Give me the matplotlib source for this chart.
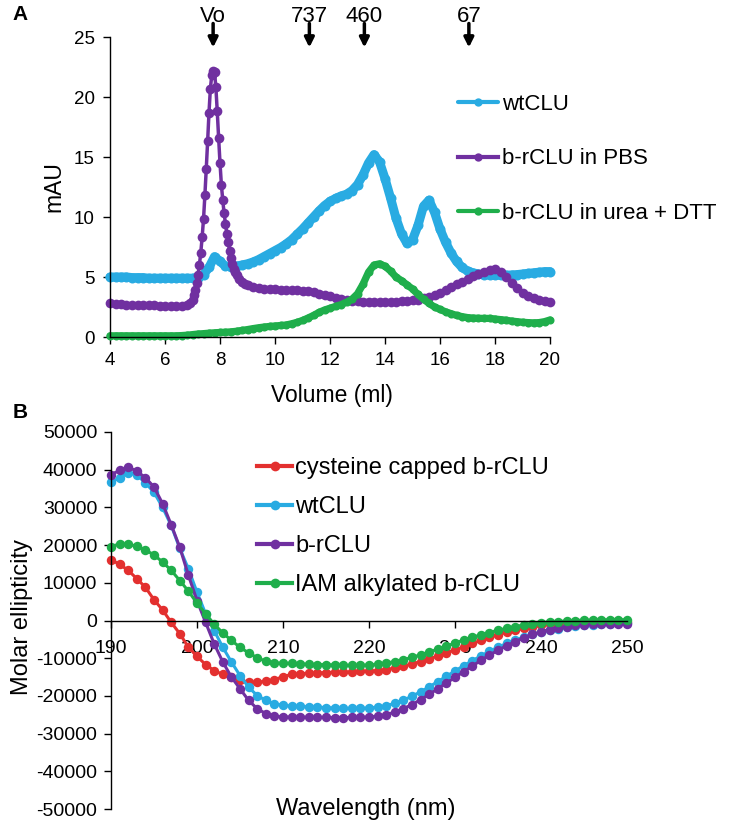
import numpy as np
import matplotlib
matplotlib.use('Agg')
import matplotlib.pyplot as plt

plt.rcParams['font.family'] = ['Liberation Sans', 'DejaVu Sans']
plt.rcParams['axes.unicode_minus'] = False

# ---- panel A : size exclusion traces (mAU vs ml) ----
vol = np.linspace(4, 20, 81)
wt_a = [5.0, 5.0, 5.0, 5.0, 4.95, 4.95, 4.95, 4.9, 4.9, 4.9, 4.9, 4.9, 4.9, 4.9, 4.9, 4.9,
        4.95, 5.2, 5.8, 6.7, 6.3, 5.9, 5.85, 5.9, 6.0, 6.1, 6.25, 6.45, 6.7, 6.95, 7.2, 7.45,
        7.75, 8.1, 8.55, 9.0, 9.5, 10.0, 10.5, 10.95, 11.3, 11.55, 11.75, 11.9, 12.2, 12.7,
        13.5, 14.5, 15.2, 14.6, 13.2, 11.6, 9.9, 8.6, 7.8, 8.1, 9.3, 10.9, 11.4, 10.4, 9.0,
        7.9, 7.0, 6.3, 5.8, 5.5, 5.35, 5.25, 5.2, 5.17, 5.15, 5.15, 5.15, 5.17, 5.2, 5.25,
        5.3, 5.35, 5.4, 5.45, 5.45]
urea_a = [0.1, 0.1, 0.1, 0.1, 0.1, 0.1, 0.1, 0.1, 0.1, 0.1, 0.1, 0.1, 0.1, 0.12, 0.15,
          0.2, 0.25, 0.28, 0.32, 0.35, 0.38, 0.4, 0.43, 0.48, 0.55, 0.62, 0.7, 0.77, 0.83,
          0.88, 0.92, 0.96, 1.0, 1.1, 1.22, 1.38, 1.58, 1.8, 2.05, 2.25, 2.4, 2.55, 2.7, 2.9,
          3.15, 3.6, 4.4, 5.4, 6.0, 6.1, 5.9, 5.5, 5.0, 4.7, 4.35, 4.0, 3.55, 3.15, 2.8, 2.5,
          2.3, 2.1, 1.95, 1.8, 1.7, 1.62, 1.58, 1.56, 1.55, 1.55, 1.5, 1.45, 1.4, 1.33, 1.28,
          1.23, 1.2, 1.18, 1.2, 1.28, 1.42]
pbs_vol = [4.0, 4.2, 4.4, 4.6, 4.8, 5.0, 5.2, 5.4, 5.6, 5.8, 6.0, 6.2, 6.4, 6.6, 6.8, 6.9,
           7.0, 7.05, 7.1, 7.15, 7.2, 7.25, 7.3, 7.35, 7.4, 7.45, 7.5, 7.55, 7.6, 7.65, 7.7,
           7.75, 7.8, 7.85, 7.9, 7.95, 8.0, 8.05, 8.1, 8.15, 8.2, 8.25, 8.3, 8.35, 8.4, 8.45,
           8.5, 8.55, 8.6, 8.7, 8.8, 8.9, 9.0, 9.2, 9.4, 9.6, 9.8, 10.0, 10.2, 10.4, 10.6,
           10.8, 11.0, 11.2, 11.4, 11.6, 11.8, 12.0, 12.2, 12.4, 12.6, 12.8, 13.0, 13.2, 13.4,
           13.6, 13.8, 14.0, 14.2, 14.4, 14.6, 14.8, 15.0, 15.2, 15.4, 15.6, 15.8, 16.0, 16.2,
           16.4, 16.6, 16.8, 17.0, 17.2, 17.4, 17.6, 17.8, 18.0, 18.2, 18.4, 18.6, 18.8, 19.0,
           19.2, 19.4, 19.6, 19.8, 20.0]
pbs_a = [2.8, 2.75, 2.72, 2.7, 2.68, 2.66, 2.65, 2.64, 2.63, 2.62, 2.62, 2.62, 2.62, 2.62,
         2.65, 2.8, 3.1, 3.5, 3.9, 4.5, 5.2, 6.0, 7.0, 8.3, 9.8, 11.8, 14.0, 16.3, 18.7, 20.7,
         21.8, 22.2, 22.1, 20.8, 18.8, 16.6, 14.5, 12.7, 11.4, 10.3, 9.4, 8.6, 7.9, 7.2, 6.6,
         6.1, 5.7, 5.4, 5.15, 4.85, 4.6, 4.45, 4.3, 4.15, 4.08, 4.03, 4.0, 3.97, 3.95, 3.93,
         3.92, 3.9, 3.85, 3.8, 3.72, 3.62, 3.5, 3.38, 3.27, 3.17, 3.08, 3.02, 2.97, 2.94, 2.93,
         2.92, 2.92, 2.93, 2.94, 2.95, 2.97, 3.0, 3.05, 3.12, 3.22, 3.35, 3.5, 3.68, 3.9, 4.15,
         4.4, 4.62, 4.85, 5.05, 5.25, 5.45, 5.62, 5.65, 5.45, 5.0, 4.5, 4.05, 3.7, 3.45, 3.25,
         3.1, 3.0, 2.9]
marker_vol = [7.75, 11.25, 13.25, 17.05]
marker_lab = ['Vo', '737', '460', '67']

# ---- panel B : CD spectra ----
wl = np.arange(190, 251)
capped = [16100, 14900, 13300, 11100, 8800, 5500, 2800, -500, -3500, -7100, -9500, -11700,
          -13300, -14300, -15000, -15900, -16400, -16400, -16100, -15700, -14900, -14300,
          -14100, -14000, -13900, -13800, -13700, -13700, -13600, -13500, -13400, -13300,
          -13000, -12600, -12100, -11500, -10900, -10200, -9400, -8600, -7800, -7000, -6100,
          -5300, -4500, -3800, -3100, -2600, -2100, -1700, -1300, -1000, -800, -600, -500,
          -400, -400, -300, -300, -300, -300]
wt_b = [36700, 37800, 39200, 38600, 36500, 34000, 30000, 25200, 19100, 13700, 7500, 1800,
        -2700, -7100, -11000, -14600, -17700, -19900, -21200, -22100, -22500, -22700, -22800,
        -22900, -23000, -23100, -23200, -23300, -23300, -23300, -23200, -23000, -22600,
        -22000, -21100, -20100, -18900, -17600, -16200, -14800, -13400, -12000, -10700,
        -9400, -8200, -7100, -6100, -5200, -4400, -3700, -3100, -2600, -2200, -1800, -1500,
        -1300, -1100, -900, -800, -700, -700]
brclu = [38700, 39800, 40700, 39600, 37900, 35400, 31000, 25400, 19400, 12000, 5300, -500,
         -6200, -11000, -15000, -18100, -21200, -23400, -24700, -25400, -25600, -25600,
         -25600, -25700, -25700, -25700, -25800, -25800, -25700, -25700, -25600, -25400,
         -25000, -24300, -23400, -22300, -21000, -19600, -18100, -16600, -15100, -13600,
         -12100, -10600, -9200, -7900, -6700, -5600, -4600, -3700, -3000, -2400, -1900,
         -1600, -1300, -1100, -1000, -900, -900, -800, -800]
iam = [19600, 20300, 20200, 19700, 18700, 17400, 15500, 13300, 10600, 7800, 4600, 1800,
       -1000, -3300, -5300, -7100, -8600, -9900, -10800, -11300, -11300, -11400, -11500,
       -11600, -11700, -11700, -11800, -11900, -11900, -11900, -11800, -11600, -11300,
       -10900, -10400, -9800, -9100, -8400, -7600, -6800, -6000, -5200, -4500, -3800, -3200,
       -2600, -2100, -1600, -1200, -900, -600, -400, -300, -100, 0, 100, 100, 200, 200, 200,
       200]

blue = '#29abe2'
purple = '#7030a0'
green = '#1fae4b'
red = '#e3302f'

W, H = 735, 825
fig = plt.figure(figsize=(W / 100, H / 100), dpi=100)

# %% panel A
ax1 = fig.add_axes([110 / W, 1 - 337 / H, 440 / W, 300 / H])
ax1.plot(vol, wt_a, color=blue, lw=6.5, marker='o', ms=7.2, mew=0, label='wtCLU',
         solid_capstyle='round', solid_joinstyle='round', clip_on=False)
ax1.plot(pbs_vol, pbs_a, color=purple, lw=2.5, marker='o', ms=7, mew=0, label='b-rCLU in PBS',
         clip_on=False)
ax1.plot(vol, urea_a, color=green, lw=5.2, marker='o', ms=5.8, mew=0, label='b-rCLU in urea + DTT',
         solid_capstyle='round', solid_joinstyle='round', clip_on=False)
ax1.set_xlim(4, 20)
ax1.set_ylim(0, 25)
ax1.set_xticks(range(4, 21, 2))
ax1.set_yticks(range(0, 26, 5))
for s in ['top', 'right']:
    ax1.spines[s].set_visible(False)
for s in ['left', 'bottom']:
    ax1.spines[s].set_linewidth(1.0)
ax1.tick_params(labelsize=13.5, length=5, width=1.0, pad=6)
ax1.set_ylabel('mAU', fontsize=16.5)
ax1.yaxis.set_label_coords(-0.102, 0.5)
ax1.set_xlabel('Volume (ml)', fontsize=16.5)
ax1.xaxis.set_label_coords(0.505, -0.157)

# size markers above the trace
tr = ax1.get_xaxis_transform()
for v, lab in zip(marker_vol, marker_lab):
    ax1.annotate('', xy=(v, 0.965), xytext=(v, 1.045), xycoords=tr, textcoords=tr,
                 arrowprops=dict(arrowstyle='-|>', color='black', lw=2.5, mutation_scale=14,
                                 shrinkA=0, shrinkB=0), annotation_clip=False)
    ax1.text(v, 1.07, lab, transform=tr, ha='center', va='center', fontsize=16)

leg1 = ax1.legend(loc='upper left', bbox_to_anchor=(458 / W, 1 - 94 / H), bbox_transform=fig.transFigure,
                  frameon=False, fontsize=16, borderaxespad=0, borderpad=0, handlelength=1.8,
                  handletextpad=0.18, labelspacing=1.5)
for h in leg1.legend_handles:
    h.set_linewidth(3)
    h.set_markersize(6)

# %% panel B
ax2 = fig.add_axes([111 / W, 1 - 809 / H, 516 / W, 377 / H])
ax2.plot(wl, capped, color=red, lw=2.2, marker='o', ms=6.8, mew=0, label='cysteine capped b-rCLU', clip_on=False)
ax2.plot(wl, wt_b, color=blue, lw=2.2, marker='o', ms=6.8, mew=0, label='wtCLU', clip_on=False)
ax2.plot(wl, brclu, color=purple, lw=2.2, marker='o', ms=6.8, mew=0, label='b-rCLU', clip_on=False)
ax2.plot(wl, iam, color=green, lw=2.2, marker='o', ms=6.8, mew=0, label='IAM alkylated b-rCLU', clip_on=False)
ax2.set_xlim(190, 250)
ax2.set_ylim(-50000, 50000)
ax2.set_xticks(range(190, 251, 10))
ax2.set_yticks(range(-50000, 50001, 10000))
for s in ['top', 'right']:
    ax2.spines[s].set_visible(False)
ax2.spines['bottom'].set_position(('data', 0))
for s in ['left', 'bottom']:
    ax2.spines[s].set_linewidth(1.0)
ax2.tick_params(labelsize=14, length=5, width=1.0, pad=5)
ax2.tick_params(axis='x', pad=9)
ax2.text(-0.172, 0.51, 'Molar ellipticity', transform=ax2.transAxes, rotation=90,
         ha='center', va='center', fontsize=17)
ax2.text(0.494, 0.0, 'Wavelength (nm)', transform=ax2.transAxes, ha='center', va='center',
         fontsize=17)
leg2 = ax2.legend(loc='upper left', bbox_to_anchor=(257 / W, 1 - 457 / H), bbox_transform=fig.transFigure,
                  frameon=False, fontsize=17, borderaxespad=0, borderpad=0, handlelength=1.5,
                  handletextpad=0.12, labelspacing=0.72)
for h in leg2.legend_handles:
    h.set_linewidth(3)
    h.set_markersize(7)

# panel letters
fig.text(20 / W, 1 - 15 / H, 'A', fontsize=15, fontweight='heavy', ha='center', va='center')
fig.text(20 / W, 1 - 413 / H, 'B', fontsize=15, fontweight='heavy', ha='center', va='center')

fig.savefig('out.png', dpi=100)
